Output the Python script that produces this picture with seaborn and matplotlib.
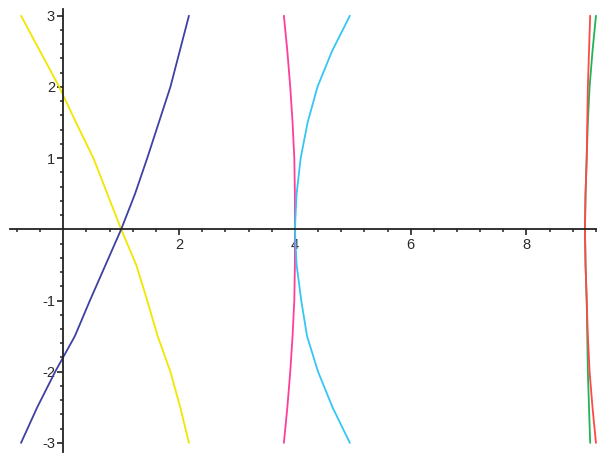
import matplotlib
matplotlib.use("Agg")
import matplotlib.pyplot as plt
import numpy as np
import pandas as pd
import seaborn as sns

# Sample heights shared by every curve (each curve is x as a function of y)
y_vals = [3.0, 2.5, 2.0, 1.5, 1.0, 0.5, 0.0, -0.5, -1.0, -1.5, -2.0, -2.5, -3.0]

x_yellow = [-0.73, -0.40, -0.07, 0.22, 0.52, 0.76, 1.00, 1.26, 1.45, 1.63, 1.85, 2.02, 2.17]
x_blue = [2.17, 2.01, 1.85, 1.65, 1.45, 1.24, 1.00, 0.73, 0.46, 0.20, -0.14, -0.45, -0.73]
x_magenta = [3.81, 3.87, 3.92, 3.96, 3.99, 4.00, 4.00, 4.00, 3.99, 3.96, 3.92, 3.87, 3.81]
x_cyan = [4.95, 4.64, 4.39, 4.22, 4.10, 4.03, 4.00, 4.03, 4.11, 4.21, 4.40, 4.65, 4.95]
x_green = [9.20, 9.14, 9.09, 9.06, 9.04, 9.02, 9.01, 9.02, 9.04, 9.05, 9.06, 9.08, 9.10]
x_red = [9.10, 9.08, 9.06, 9.05, 9.04, 9.02, 9.01, 9.02, 9.04, 9.06, 9.09, 9.14, 9.20]

curve_names = ["yellow", "blue", "magenta", "cyan", "green", "red"]
curve_x = [x_yellow, x_blue, x_magenta, x_cyan, x_green, x_red]
curve_colors = ["#f2e600", "#3c41a3", "#ff3d9a", "#35c6f4", "#1fb455", "#ff4848"]

x_tick_labels = ["2", "4", "6", "8"]
y_tick_labels = ["-3", "-2", "-1", "1", "2", "3"]

frames = []
for name, xs in zip(curve_names, curve_x):
    frames.append(pd.DataFrame({"x": xs, "y": y_vals, "curve": name}))
df = pd.concat(frames, ignore_index=True)

sns.set_style("white")
plt.rcParams["font.family"] = ["Liberation Sans", "DejaVu Sans"]

fig = plt.figure(figsize=(5.97, 4.54), dpi=100)
ax = fig.add_axes([0, 0, 1, 1])

sns.lineplot(
    data=df, x="x", y="y", hue="curve", hue_order=curve_names,
    palette=dict(zip(curve_names, curve_colors)),
    sort=False, estimator=None, legend=False, linewidth=1.3, ax=ax,
)

ax.set_xlim(-1.093, 9.218)
ax.set_ylim(-3.156, 3.221)

# Axes crossing at the origin
for side in ["top", "right"]:
    ax.spines[side].set_visible(False)
ax.spines["left"].set_position(("data", 0))
ax.spines["bottom"].set_position(("data", 0))
ax.spines["left"].set_bounds(-3.13, 3.10)
ax.spines["bottom"].set_bounds(-0.92, 9.22)
for side in ["left", "bottom"]:
    ax.spines[side].set_color("#222222")
    ax.spines[side].set_linewidth(1.3)

ax.set_xticks([2, 4, 6, 8])
ax.set_xticklabels(x_tick_labels)
ax.set_yticks([-3, -2, -1, 1, 2, 3])
ax.set_yticklabels(y_tick_labels)

x_minor = [v for v in np.round(np.arange(-0.8, 9.3, 0.4), 2) if abs(v) > 1e-9]
y_minor = [v for v in np.round(np.arange(-3.0, 3.05, 0.2), 2) if abs(v) > 1e-9]
ax.set_xticks(x_minor, minor=True)
ax.set_yticks(y_minor, minor=True)

ax.tick_params(axis="both", which="both", bottom=True, left=True, top=False, right=False)
ax.tick_params(axis="both", which="major", direction="out", length=4.5, width=1.2,
               color="#222222", labelsize=10.5, labelcolor="#2a2a2a")
ax.tick_params(axis="both", which="minor", direction="out", length=2.5, width=1.1,
               color="#222222")
ax.tick_params(axis="x", which="major", pad=1.5)
ax.tick_params(axis="y", which="major", pad=1.5)
ax.set_xlabel("")
ax.set_ylabel("")
ax.grid(False)

fig.savefig("out.png", dpi=100)
